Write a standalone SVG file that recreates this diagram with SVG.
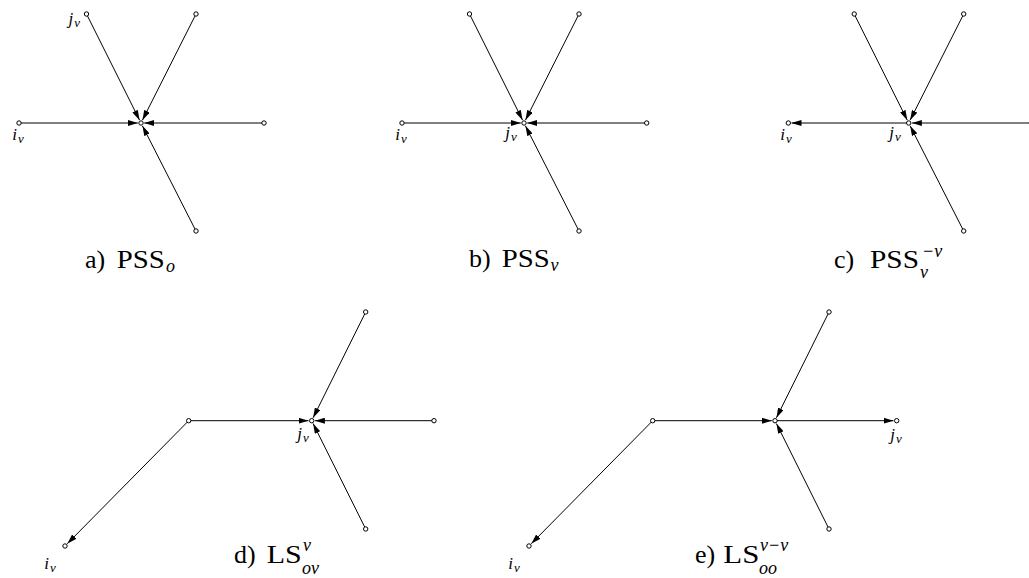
<svg xmlns="http://www.w3.org/2000/svg" width="1029" height="578" viewBox="0 0 1029 578">
<style>
.e{stroke:#000;stroke-width:1;fill:none;marker-end:url(#ah)}
.n{fill:#fff;stroke:#000;stroke-width:1}
.m{font-family:"Liberation Serif",serif;font-style:italic;font-size:17px;fill:#000}
.s{font-size:13px}
.cap{font-family:"Liberation Serif",serif;font-size:26px;fill:#000}
.ci{font-style:italic;font-size:18px}
</style>
<defs>
<marker id="ah" markerUnits="userSpaceOnUse" markerWidth="10" markerHeight="6" refX="10" refY="3" orient="auto">
<path d="M0,0 L10,3 L0,6 z" fill="#000"/>
</marker>
</defs>
<rect width="1029" height="578" fill="#fff"/>
<g id="connectors">
<line class="e" x1="19" y1="123" x2="137.8" y2="123"/>
<line class="e" x1="264" y1="123" x2="144.2" y2="123"/>
<line class="e" x1="86.5" y1="14" x2="139.57" y2="120.14"/>
<line class="e" x1="196" y1="14" x2="142.44" y2="120.14"/>
<line class="e" x1="196" y1="231" x2="142.45" y2="125.85"/>
<line class="e" x1="402" y1="123" x2="520.8" y2="123"/>
<line class="e" x1="646.7" y1="123" x2="527.2" y2="123"/>
<line class="e" x1="469.5" y1="14" x2="522.57" y2="120.14"/>
<line class="e" x1="579" y1="14" x2="525.44" y2="120.14"/>
<line class="e" x1="579" y1="231" x2="525.45" y2="125.85"/>
<line class="e" x1="908.7" y1="123" x2="791.5" y2="123"/>
<line class="e" x1="1031.4" y1="123" x2="911.9" y2="123"/>
<line class="e" x1="854.2" y1="14" x2="907.27" y2="120.14"/>
<line class="e" x1="963.7" y1="14" x2="910.14" y2="120.14"/>
<line class="e" x1="963.7" y1="231" x2="910.15" y2="125.85"/>
<line class="e" x1="188.7" y1="420.7" x2="308.5" y2="420.7"/>
<line class="e" x1="434" y1="420.7" x2="314.9" y2="420.7"/>
<line class="e" x1="365.7" y1="312" x2="313.12" y2="417.84"/>
<line class="e" x1="365.7" y1="529" x2="313.13" y2="423.56"/>
<line class="e" x1="188.7" y1="420.7" x2="67.25" y2="543.72"/>
<line class="e" x1="652.7" y1="420.7" x2="771.8" y2="420.7"/>
<line class="e" x1="775" y1="420.7" x2="893.5" y2="420.7"/>
<line class="e" x1="829" y1="312" x2="776.42" y2="417.84"/>
<line class="e" x1="829" y1="529" x2="776.43" y2="423.56"/>
<line class="e" x1="652.7" y1="420.7" x2="531.25" y2="543.72"/>
</g>
<g id="a-center"><circle class="n" cx="141" cy="123" r="2.2"/></g>
<g id="a-iv"><circle class="n" cx="19" cy="123" r="2.2"/><text class="m" x="18" y="140" text-anchor="middle">i<tspan class="s" dx="1" dy="3">v</tspan></text></g>
<g id="a-right"><circle class="n" cx="264" cy="123" r="2.2"/></g>
<g id="a-jv"><circle class="n" cx="86.5" cy="14" r="2.2"/><text class="m" x="80" y="24" text-anchor="end">j<tspan class="s" dx="1" dy="3">v</tspan></text></g>
<g id="a-tr"><circle class="n" cx="196" cy="14" r="2.2"/></g>
<g id="a-bottom"><circle class="n" cx="196" cy="231" r="2.2"/></g>
<g id="b-center"><circle class="n" cx="524" cy="123" r="2.2"/><text class="m" x="511" y="138" text-anchor="middle">j<tspan class="s" dx="1" dy="3">v</tspan></text></g>
<g id="b-iv"><circle class="n" cx="402" cy="123" r="2.2"/><text class="m" x="401" y="140" text-anchor="middle">i<tspan class="s" dx="1" dy="3">v</tspan></text></g>
<g id="b-right"><circle class="n" cx="646.7" cy="123" r="2.2"/></g>
<g id="b-tl"><circle class="n" cx="469.5" cy="14" r="2.2"/></g>
<g id="b-tr"><circle class="n" cx="579" cy="14" r="2.2"/></g>
<g id="b-bottom"><circle class="n" cx="579" cy="231" r="2.2"/></g>
<g id="c-center"><circle class="n" cx="908.7" cy="123" r="2.2"/><text class="m" x="895" y="138" text-anchor="middle">j<tspan class="s" dx="1" dy="3">v</tspan></text></g>
<g id="c-iv"><circle class="n" cx="788.3" cy="123" r="2.2"/><text class="m" x="786" y="140" text-anchor="middle">i<tspan class="s" dx="1" dy="3">v</tspan></text></g>
<g id="c-right"><circle class="n" cx="1031.4" cy="123" r="2.2"/></g>
<g id="c-tl"><circle class="n" cx="854.2" cy="14" r="2.2"/></g>
<g id="c-tr"><circle class="n" cx="963.7" cy="14" r="2.2"/></g>
<g id="c-bottom"><circle class="n" cx="963.7" cy="231" r="2.2"/></g>
<g id="d-center"><circle class="n" cx="311.7" cy="420.7" r="2.2"/><text class="m" x="303" y="439" text-anchor="middle">j<tspan class="s" dx="1" dy="3">v</tspan></text></g>
<g id="d-left"><circle class="n" cx="188.7" cy="420.7" r="2.2"/></g>
<g id="d-right"><circle class="n" cx="434" cy="420.7" r="2.2"/></g>
<g id="d-tr"><circle class="n" cx="365.7" cy="312" r="2.2"/></g>
<g id="d-bottom"><circle class="n" cx="365.7" cy="529" r="2.2"/></g>
<g id="d-iv"><circle class="n" cx="65" cy="546" r="2.2"/><text class="m" x="50" y="569" text-anchor="middle">i<tspan class="s" dx="1" dy="3">v</tspan></text></g>
<g id="e-center"><circle class="n" cx="775" cy="420.7" r="2.2"/></g>
<g id="e-left"><circle class="n" cx="652.7" cy="420.7" r="2.2"/></g>
<g id="e-jv"><circle class="n" cx="896.7" cy="420.7" r="2.2"/><text class="m" x="896" y="440" text-anchor="middle">j<tspan class="s" dx="1" dy="3">v</tspan></text></g>
<g id="e-tr"><circle class="n" cx="829" cy="312" r="2.2"/></g>
<g id="e-bottom"><circle class="n" cx="829" cy="529" r="2.2"/></g>
<g id="e-iv"><circle class="n" cx="529" cy="546" r="2.2"/><text class="m" x="514" y="569" text-anchor="middle">i<tspan class="s" dx="1" dy="3">v</tspan></text></g>
<g id="captions">
<text class="cap" x="85" y="268">a)</text>
<text class="cap" x="116.7" y="268" textLength="48" lengthAdjust="spacingAndGlyphs">PSS</text>
<text class="cap ci" x="166" y="272">o</text>
<text class="cap" x="469" y="267">b)</text>
<text class="cap" x="501.7" y="267" textLength="48" lengthAdjust="spacingAndGlyphs">PSS</text>
<text class="cap ci" x="550.5" y="271">v</text>
<text class="cap" x="834" y="268">c)</text>
<text class="cap" x="870" y="268" textLength="49" lengthAdjust="spacingAndGlyphs">PSS</text>
<text class="cap ci" x="920" y="278">v</text>
<text class="cap ci" x="922" y="257">−v</text>
<text class="cap" x="234" y="563">d)</text>
<text class="cap" x="266.7" y="563" textLength="35" lengthAdjust="spacingAndGlyphs">LS</text>
<text class="cap ci" x="303" y="551">v</text>
<text class="cap ci" x="302" y="574">ov</text>
<text class="cap" x="695" y="563">e)</text>
<text class="cap" x="723.3" y="563" textLength="36" lengthAdjust="spacingAndGlyphs">LS</text>
<text class="cap ci" x="760" y="551">v−v</text>
<text class="cap ci" x="759" y="574">oo</text>
</g>
</svg>
